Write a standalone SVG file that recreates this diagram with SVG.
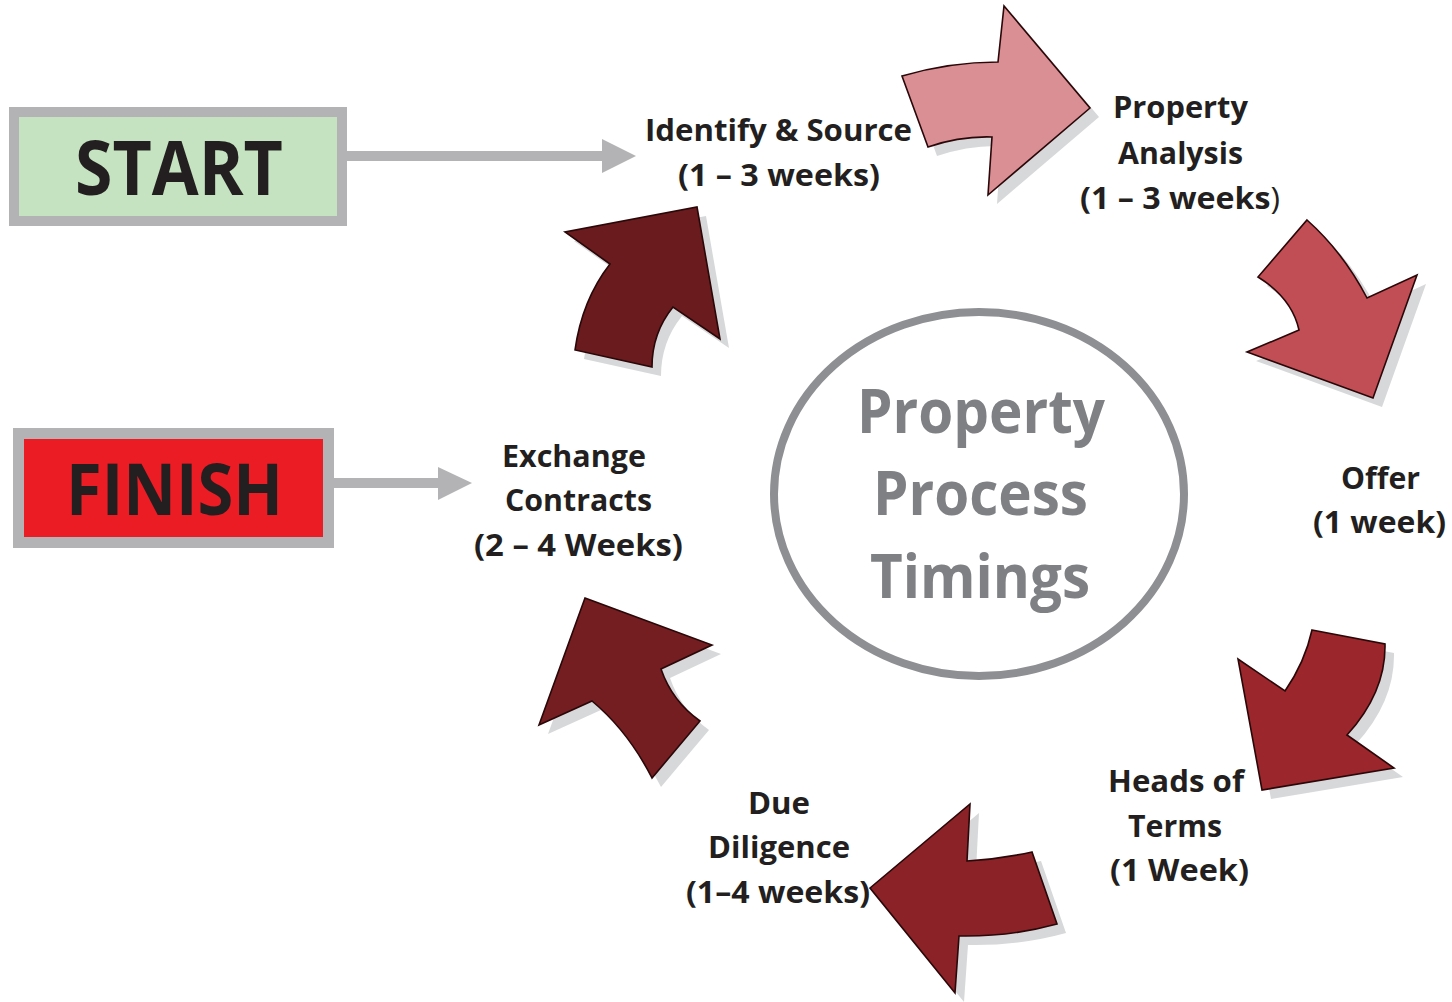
<svg xmlns="http://www.w3.org/2000/svg" width="1452" height="1002" viewBox="0 0 1452 1002">
<style>
.lbl{font-family:"Open Sans","Liberation Sans",sans-serif;font-weight:bold;font-size:31px;fill:#231f20;text-anchor:middle}
.big{font-family:"Open Sans","Liberation Sans",sans-serif;font-weight:bold;fill:#231f20;text-anchor:middle}
.ctr{font-family:"Open Sans","Liberation Sans",sans-serif;font-weight:bold;font-size:60px;fill:#7f8083;text-anchor:middle}
.shadow{fill:#d7d8da}
.blk{stroke:#2a0708;stroke-width:1.6;stroke-linejoin:miter}
.conn{stroke:#b3b3b5;stroke-width:10;fill:none}
.head{fill:#b3b3b5}
</style>
<defs>
<path id="a1" d="M902,76 Q950,62 998,62 L1004,6 L1090,108 L988,195 L992,137 Q960,136 928,147 Z"/>
<path id="a2" d="M1307,220 Q1343,252 1367,298 L1417,275 L1373,398 L1247,352 L1299,330 Q1292,298 1258,277 Z"/>
<path id="a3" d="M1312,630 L1385,644 Q1386,692 1347,735 L1394,768 L1262,790 L1238,659 L1285,691 Q1305,662 1312,630 Z"/>
<path id="a4" d="M970,804 L967,861 Q1000,859 1032,852 L1057,924 Q1010,937 959,936 L955,993 L870,888 Z"/>
<path id="a5" d="M585,598 L712,645 L661,669 Q672,701 700,721 L652,778 Q628,731 592,701 L539,725 Z"/>
<path id="a6" d="M697,207 L720,339 L673,307 Q652,333 652,367 L575,350 Q582,300 610,264 L565,232 Z"/>
</defs>
<rect width="1452" height="1002" fill="#ffffff"/>

<g id="connectors">
  <line class="conn" x1="347" y1="156" x2="604" y2="156"/>
  <polygon class="head" points="602,139 636,156 602,173"/>
  <line class="conn" x1="334" y1="483" x2="440" y2="483"/>
  <polygon class="head" points="438,467 472,483 438,500"/>
  <g id="cycle-arrows">
    <use href="#a1" class="shadow" transform="translate(9,9)"/>
    <use href="#a2" class="shadow" transform="translate(9,9)"/>
    <use href="#a3" class="shadow" transform="translate(9,9)"/>
    <use href="#a4" class="shadow" transform="translate(9,9)"/>
    <use href="#a5" class="shadow" transform="translate(9,9)"/>
    <use href="#a6" class="shadow" transform="translate(9,9)"/>
    <use href="#a1" class="blk" fill="#d98f94"/>
    <use href="#a2" class="blk" fill="#c24e55"/>
    <use href="#a3" class="blk" fill="#9b262b"/>
    <use href="#a4" class="blk" fill="#8a2227"/>
    <use href="#a5" class="blk" fill="#741e21"/>
    <use href="#a6" class="blk" fill="#6a1b1e"/>
  </g>
</g>

<g id="start">
  <rect x="14" y="112" width="328" height="109" fill="#c5e3c0" stroke="#b3b3b5" stroke-width="10"/>
  <text class="big" x="179" y="195" font-size="76" textLength="208" lengthAdjust="spacingAndGlyphs">START</text>
</g>

<g id="finish">
  <rect x="18.5" y="433.5" width="310" height="109" fill="#ec1c24" stroke="#b3b3b5" stroke-width="11"/>
  <text class="big" x="174.5" y="515" font-size="72" textLength="217" lengthAdjust="spacingAndGlyphs">FINISH</text>
</g>

<g id="center">
  <ellipse cx="979" cy="494" rx="205" ry="182" fill="#ffffff" stroke="#8e8f92" stroke-width="8"/>
  <text class="ctr" x="981" y="433" textLength="248" lengthAdjust="spacingAndGlyphs">Property</text>
  <text class="ctr" x="980.5" y="515" textLength="215" lengthAdjust="spacingAndGlyphs">Process</text>
  <text class="ctr" x="980" y="598" textLength="220" lengthAdjust="spacingAndGlyphs">Timings</text>
</g>

<g id="identify">
  <text class="lbl" x="778.5" y="141" textLength="267" lengthAdjust="spacingAndGlyphs">Identify &amp; Source</text>
  <text class="lbl" x="779" y="186" textLength="202" lengthAdjust="spacingAndGlyphs">(1 – 3 weeks)</text>
</g>

<g id="analysis">
  <text class="lbl" x="1180.5" y="118" textLength="135" lengthAdjust="spacingAndGlyphs">Property</text>
  <text class="lbl" x="1180.5" y="164" textLength="125" lengthAdjust="spacingAndGlyphs">Analysis</text>
  <text class="lbl" x="1180" y="209" textLength="200" lengthAdjust="spacingAndGlyphs">(1 – 3 weeks<tspan font-weight="normal">)</tspan></text>
</g>

<g id="offer">
  <text class="lbl" x="1380.5" y="489" textLength="79" lengthAdjust="spacingAndGlyphs">Offer</text>
  <text class="lbl" x="1379.5" y="533" textLength="133" lengthAdjust="spacingAndGlyphs">(1 week)</text>
</g>

<g id="heads">
  <text class="lbl" x="1176" y="792" textLength="136" lengthAdjust="spacingAndGlyphs">Heads of</text>
  <text class="lbl" x="1175" y="837" textLength="94" lengthAdjust="spacingAndGlyphs">Terms</text>
  <text class="lbl" x="1179.5" y="881" textLength="139" lengthAdjust="spacingAndGlyphs">(1 Week)</text>
</g>

<g id="due">
  <text class="lbl" x="779" y="814" textLength="62" lengthAdjust="spacingAndGlyphs">Due</text>
  <text class="lbl" x="779" y="858" textLength="142" lengthAdjust="spacingAndGlyphs">Diligence</text>
  <text class="lbl" x="778" y="903" textLength="184" lengthAdjust="spacingAndGlyphs">(1–4 weeks)</text>
</g>

<g id="exchange">
  <text class="lbl" x="574" y="467" textLength="144" lengthAdjust="spacingAndGlyphs">Exchange</text>
  <text class="lbl" x="578.5" y="511" textLength="147" lengthAdjust="spacingAndGlyphs">Contracts</text>
  <text class="lbl" x="578.5" y="556" textLength="209" lengthAdjust="spacingAndGlyphs">(2 – 4 Weeks)</text>
</g>
</svg>
